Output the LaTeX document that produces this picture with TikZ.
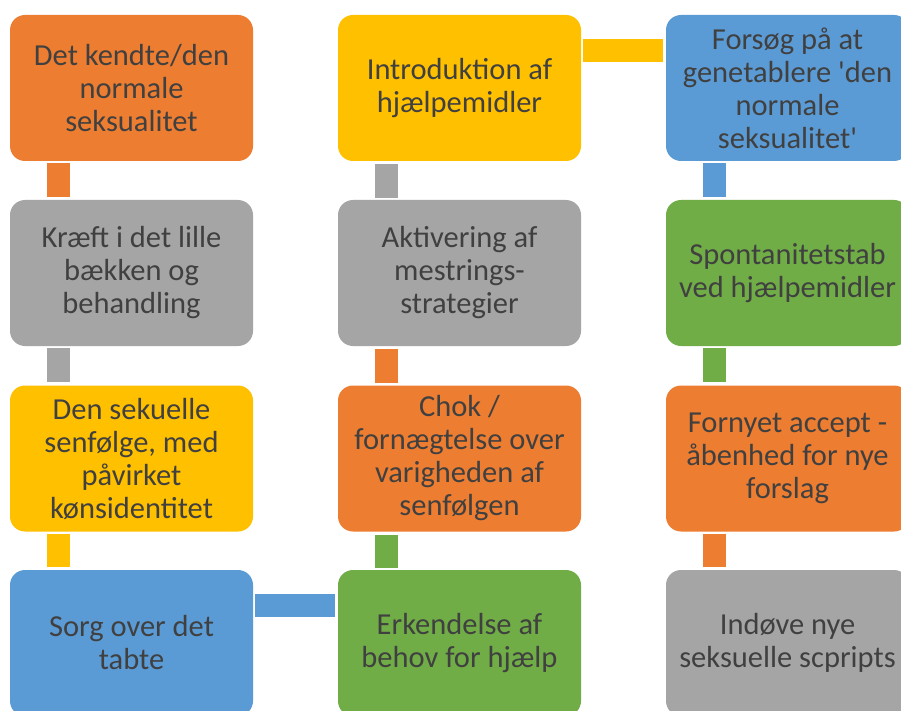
\documentclass[tikz,border=0pt]{standalone}
\usepackage{fontspec}
% plain family: no TeX ligature mapping, so ' stays a straight quote
\newfontfamily\carlito{Carlito}
\definecolor{cOrange}{HTML}{ED7D31}
\definecolor{cGray}{HTML}{A5A5A5}
\definecolor{cYellow}{HTML}{FFC000}
\definecolor{cBlue}{HTML}{5B9BD5}
\definecolor{cGreen}{HTML}{70AD47}
\definecolor{cText}{HTML}{404040}
\tikzset{
  stagebox/.style={rectangle, rounded corners=15pt, fill=#1, draw=none,
    minimum width=243pt, minimum height=146pt, inner sep=0pt,
    align=center, text=cText, font=\carlito\fontsize{30.5}{33}\selectfont},
  link/.style={draw=#1, line width=23pt, line cap=butt, shorten <=2pt, shorten >=3pt}
}
\begin{document}
\begin{tikzpicture}[x=1pt, y=-1pt]
  \useasboundingbox (0,0) rectangle (901,711);
  \clip (0,0) rectangle (901,711);
  \fill[white] (0,0) rectangle (901,711);

  % column 1
  \node[stagebox=cOrange] (a1) at (131.5,88)    {Det kendte/den\\normale\\seksualitet};
  \node[stagebox=cGray]   (a2) at (131.5,273)   {Kræft i det lille\\bækken og\\behandling};
  \node[stagebox=cYellow] (a3) at (131.5,458.5) {Den sekuelle\\senfølge, med\\påvirket\\kønsidentitet};
  \node[stagebox=cBlue]   (a4) at (131.5,643)   {Sorg over det\\tabte};
  % column 2
  \node[stagebox=cYellow] (b1) at (459.5,88)    {Introduktion af\\hjælpemidler};
  \node[stagebox=cGray]   (b2) at (459.5,273)   {Aktivering af\\mestrings-\\strategier};
  \node[stagebox=cOrange] (b3) at (459.5,458.5) {Chok /\\fornægtelse over\\varigheden af\\senfølgen};
  \node[stagebox=cGreen]  (b4) at (459.5,643)   {Erkendelse af\\behov for hjælp};
  % column 3
  \node[stagebox=cBlue]   (c1) at (787.5,88)    {Forsøg på at\\genetablere 'den\\normale\\seksualitet'};
  \node[stagebox=cGreen]  (c2) at (787.5,273)   {Spontanitetstab\\ved hjælpemidler};
  \node[stagebox=cOrange] (c3) at (787.5,458.5) {Fornyet accept -\\åbenhed for nye\\forslag};
  \node[stagebox=cGray]   (c4) at (787.5,643)   {Indøve nye\\seksuelle scpripts};

  % connectors, coloured like the stage they leave
  \path[link=cOrange] ([xshift=-73pt]a1.south) -- ([xshift=-73pt]a2.north);
  \path[link=cGray]   ([xshift=-73pt]a2.south) -- ([xshift=-73pt]a3.north);
  \path[link=cYellow] ([xshift=-73pt]a3.south) -- ([xshift=-73pt]a4.north);
  \path[link=cBlue]   ([yshift=37.5pt]a4.east) -- ([yshift=37.5pt]b4.west);
  \path[link=cGreen]  ([xshift=-73pt]b4.north) -- ([xshift=-73pt]b3.south);
  \path[link=cOrange] ([xshift=-73pt]b3.north) -- ([xshift=-73pt]b2.south);
  \path[link=cGray]   ([xshift=-73pt]b2.north) -- ([xshift=-73pt]b1.south);
  \path[link=cYellow] ([yshift=37.5pt]b1.east) -- ([yshift=37.5pt]c1.west);
  \path[link=cBlue]   ([xshift=-73pt]c1.south) -- ([xshift=-73pt]c2.north);
  \path[link=cGreen]  ([xshift=-73pt]c2.south) -- ([xshift=-73pt]c3.north);
  \path[link=cOrange] ([xshift=-73pt]c3.south) -- ([xshift=-73pt]c4.north);
\end{tikzpicture}
\end{document}
